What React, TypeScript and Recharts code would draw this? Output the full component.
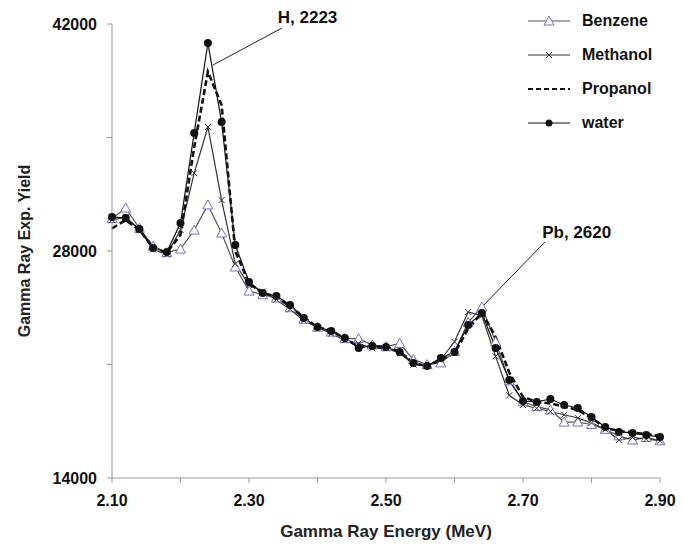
import React from 'react';
import { LineChart, Line, XAxis, YAxis, Legend, ReferenceLine, ReferenceDot } from 'recharts';

const energy = [
    2.10, 2.12, 2.14, 2.16, 2.18, 2.20, 2.22, 2.24, 2.26, 2.28,
    2.30, 2.32, 2.34, 2.36, 2.38, 2.40, 2.42, 2.44, 2.46, 2.48,
    2.50, 2.52, 2.54, 2.56, 2.58, 2.60, 2.62, 2.64, 2.66, 2.68,
    2.70, 2.72, 2.74, 2.76, 2.78, 2.80, 2.82, 2.84, 2.86, 2.88, 2.90,
];

const benzene = [
    30000, 30650, 29400, 28300, 27900, 28120, 29290, 30840, 29110, 27010,
    25530, 25300, 25100, 24500, 23800, 23300, 23000, 22600, 22600, 22200,
    22100, 22300, 21300, 21000, 21100, 21800, 23600, 24550, 22400, 20000,
    18700, 18400, 18200, 17450, 17450, 17300, 17000, 16600, 16340, 16500, 16300,
];

const methanol = [
    29900, 30100, 29300, 28100, 27800, 29300, 32800, 35650, 31140, 27200,
    25900, 25500, 25000, 24400, 23700, 23300, 22900, 22500, 22300, 22000,
    22000, 21700, 21000, 20900, 21300, 22400, 24240, 24000, 21500, 19100,
    18500, 18300, 18100, 17900, 17700, 17400, 17000, 16340, 16500, 16400, 16300,
];

const propanol = [
    29400, 29900, 29300, 28200, 27900, 29000, 34400, 39050, 37000, 28000,
    26000, 25400, 25200, 24600, 23900, 23300, 23100, 22600, 22100, 22100,
    22100, 21800, 21100, 20900, 21300, 21700, 23200, 24200, 22700, 20500,
    19000, 18700, 18600, 18400, 18200, 17700, 17100, 16900, 16800, 16700, 16600,
];

const water = [
    30100, 30030, 29360, 28180, 27940, 29730, 35280, 40830, 35950, 28370,
    26090, 25410, 25220, 24670, 23870, 23310, 23070, 22630, 22020, 22140,
    22080, 21770, 21090, 20910, 21400, 21770, 23430, 24180, 22020, 20040,
    18750, 18690, 18870, 18500, 18320, 17760, 17150, 16840, 16780, 16650, 16530,
];

const xTicks = [2.1, 2.2, 2.3, 2.4, 2.5, 2.6, 2.7, 2.8, 2.9];
const xLabels = [2.1, 2.3, 2.5, 2.7, 2.9];
const yTicks = [14000, 21000, 28000, 35000, 42000];
const yLabels = [14000, 28000, 42000];

const data = energy.map((e, i) => ({
    e,
    benzene: benzene[i],
    methanol: methanol[i],
    propanol: propanol[i],
    water: water[i],
}));

const FONT = '"Liberation Sans", Arial, sans-serif';
const AXIS = '#999';
const PURPLE = '#7a70c0';

const Triangle = (props: any) => {
    const { cx, cy, index } = props;
    return (
        <path
            key={`t-${index}`}
            d={`M${cx},${cy - 5} L${cx + 5},${cy + 4} L${cx - 5},${cy + 4} Z`}
            fill="#fff"
            stroke={PURPLE}
            strokeWidth={1}
        />
    );
};

const Cross = (props: any) => {
    const { cx, cy, index } = props;
    return (
        <path
            key={`x-${index}`}
            d={`M${cx - 3},${cy - 3} L${cx + 3},${cy + 3} M${cx - 3},${cy + 3} L${cx + 3},${cy - 3}`}
            stroke="#333"
            strokeWidth={1}
        />
    );
};

const Ball = (props: any) => {
    const { cx, cy, index } = props;
    return <circle key={`c-${index}`} cx={cx} cy={cy} r={4} fill="#111" />;
};

const legendItems = [
    { name: 'Benzene', stroke: '#555', dash: undefined, mark: 'tri' },
    { name: 'Methanol', stroke: '#333', dash: undefined, mark: 'x' },
    { name: 'Propanol', stroke: '#111', dash: '5 3', mark: '' },
    { name: 'water', stroke: '#111', dash: undefined, mark: 'dot' },
];

const renderLegend = () => (
    <div style={{ fontFamily: FONT, fontWeight: 'bold', fontSize: 16, color: '#111' }}>
        {legendItems.map((it) => (
            <div key={it.name} style={{ display: 'flex', alignItems: 'center', height: 34 }}>
                <svg width={46} height={12} style={{ marginLeft: 4, marginRight: 8 }}>
                    <line x1={0} y1={6} x2={42} y2={6} stroke={it.stroke}
                        strokeWidth={it.dash ? 2.2 : 1.2} strokeDasharray={it.dash} />
                    {it.mark === 'tri' && <path d="M21,1 L26,10 L16,10 Z" fill="#fff" stroke={PURPLE} />}
                    {it.mark === 'x' && <path d="M18,3 L24,9 M18,9 L24,3" stroke="#333" />}
                    {it.mark === 'dot' && <circle cx={21} cy={6} r={3.5} fill="#111" />}
                </svg>
                <span>{it.name}</span>
            </div>
        ))}
    </div>
);

export default function App() {
    return (
        <div style={{ position: 'absolute', left: 0, top: 0, background: '#fff' }}>
            <LineChart width={684} height={545} data={data} margin={{ top: 24, right: 24, left: 0, bottom: 0 }}>
                <XAxis
                    dataKey="e"
                    type="number"
                    domain={[2.1, 2.9]}
                    ticks={xTicks}
                    tickFormatter={(v: number) => (xLabels.some((l) => Math.abs(l - v) < 1e-6) ? v.toFixed(2) : '')}
                    height={67}
                    stroke={AXIS}
                    tickSize={5}
                    tickMargin={12}
                    tick={{ fill: '#111', fontSize: 16, fontWeight: 'bold', fontFamily: FONT }}
                    label={{ value: 'Gamma Ray Energy (MeV)', position: 'insideBottom', offset: 8,
                        style: { fill: '#222', fontSize: 17, fontWeight: 'bold', fontFamily: FONT } }}
                />
                <YAxis
                    type="number"
                    domain={[14000, 42000]}
                    ticks={yTicks}
                    tickFormatter={(v: number) => (yLabels.includes(v) ? String(v) : '')}
                    width={112}
                    stroke={AXIS}
                    tickSize={5}
                    tickMargin={10}
                    tick={{ fill: '#111', fontSize: 16, fontWeight: 'bold', fontFamily: FONT }}
                    label={{ value: 'Gamma Ray Exp. Yield', angle: -90, position: 'insideLeft', offset: 24,
                        style: { textAnchor: 'middle', fill: '#222', fontSize: 16, fontWeight: 'bold', fontFamily: FONT } }}
                />
                <Legend
                    layout="vertical"
                    align="center"
                    verticalAlign="middle"
                    content={renderLegend}
                    wrapperStyle={{ top: 4, left: 524, width: 160 }}
                />
                <Line dataKey="benzene" stroke="#555" strokeWidth={1.2} dot={Triangle} type="linear" isAnimationActive={false} />
                <Line dataKey="methanol" stroke="#333" strokeWidth={1.2} dot={Cross} type="linear" isAnimationActive={false} />
                <Line dataKey="propanol" stroke="#111" strokeWidth={2.6} strokeDasharray="6 3" dot={false} type="linear" isAnimationActive={false} />
                <Line dataKey="water" stroke="#111" strokeWidth={1.2} dot={Ball} type="linear" isAnimationActive={false} />
                <ReferenceLine segment={[{ x: 2.2474, y: 39470 }, { x: 2.348, y: 41750 }]} stroke="#222" strokeWidth={1} ifOverflow="visible" />
                <ReferenceLine segment={[{ x: 2.64, y: 24545 }, { x: 2.732, y: 28555 }]} stroke="#222" strokeWidth={1} ifOverflow="visible" />
                <ReferenceDot x={2.342} y={42430} r={0} fill="none" stroke="none" ifOverflow="visible"
                    label={{ value: 'H, 2223', position: 'right', offset: 0,
                        style: { fill: '#111', fontSize: 17, fontWeight: 'bold', fontFamily: FONT } }} />
                <ReferenceDot x={2.728} y={29170} r={0} fill="none" stroke="none" ifOverflow="visible"
                    label={{ value: 'Pb, 2620', position: 'right', offset: 0,
                        style: { fill: '#111', fontSize: 17, fontWeight: 'bold', fontFamily: FONT } }} />
            </LineChart>
        </div>
    );
}
